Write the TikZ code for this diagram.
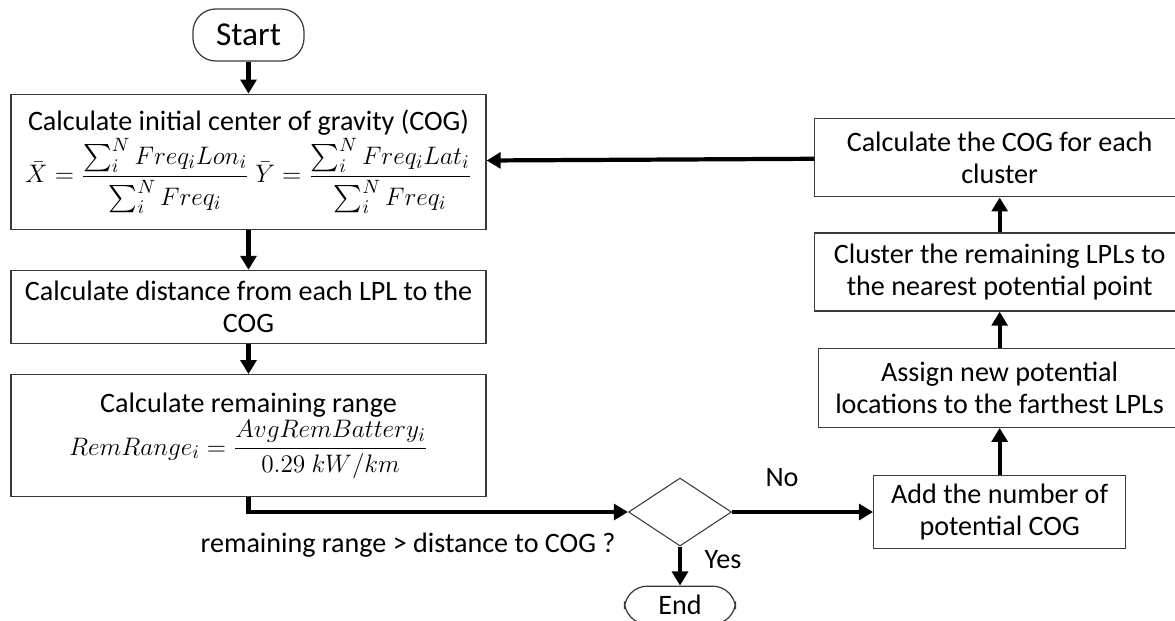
\documentclass[tikz,border=0pt]{standalone}
\usepackage{amsmath,amssymb}
\usepackage{fontspec}
\setmainfont{Carlito}
\usepackage{tikz}
\usetikzlibrary{
    arrows.meta,
    positioning,
    shapes.geometric
}
\definecolor{boxline}{HTML}{3A3A3A}
\tikzstyle{arrow}=[line width=2.4pt,-{Triangle[length=8pt,width=9pt]},draw=black]
\newcommand{\eqsize}{\fontsize{15.5}{18}\selectfont}

\begin{document}
\begin{tikzpicture}[
    every node/.style={font=\fontsize{16}{18.5}\selectfont},
    proc/.style={
        rectangle,
        draw=boxline,
        line width=0.7pt,
        fill=white,
        align=center,
        inner sep=2pt
    },
    terminal/.style={
        rectangle,
        rounded corners=13pt,
        draw=boxline,
        line width=0.7pt,
        minimum width=2.22cm,
        minimum height=1.04cm
    },
    decision/.style={
        diamond,
        draw=boxline,
        line width=0.6pt,
        minimum width=2.06cm,
        minimum height=1.36cm,
        inner sep=0pt
    }
]
\useasboundingbox[fill=white] (0,0) rectangle (23.5,-12.4);
% left column
\node[terminal,font=\fontsize{19}{22}\selectfont] (start) at (4.97,-0.70) {Start};
\node[proc,minimum width=9.5cm,minimum height=2.7cm,below=0.64cm of start] (initcog)
    {Calculate initial center of gravity (COG)\\[1pt]
    {\eqsize$\bar{X}=\dfrac{\sum_i^N Freq_iLon_i}{\sum_i^N Freq_i}\ \bar{Y}=\dfrac{\sum_i^N Freq_iLat_i}{\sum_i^N Freq_i}$}};
\node[proc,minimum width=9.5cm,minimum height=1.46cm,below=0.8cm of initcog] (dist)
    {Calculate distance from each LPL to the\\COG};
\node[proc,minimum width=9.5cm,minimum height=2.44cm,below=0.6cm of dist] (range)
    {Calculate remaining range\\[1pt]
    {\eqsize$RemRange_i=\dfrac{AvgRemBattery_i}{0.29\ kW/km}$}};
% decision and end
\node[decision] (check) at (13.6,-10.24) {};
\node[terminal,minimum height=0.76cm,below=0.78cm of check] (finish) {End};
% right column
\node[proc,minimum width=5.04cm,minimum height=1.46cm,right=2.82cm of check] (addcog)
    {Add the number of\\potential COG};
\node[proc,minimum width=7.24cm,minimum height=1.58cm,above=0.94cm of addcog] (assign)
    {Assign new potential\\locations to the farthest LPLs};
\node[proc,minimum width=7.4cm,minimum height=1.56cm,above=0.72cm of assign] (cluster)
    {Cluster the remaining LPLs to\\the nearest potential point};
\node[proc,minimum width=7.4cm,minimum height=1.56cm,above=0.7cm of cluster] (newcog)
    {Calculate the COG for each\\cluster};
% labels
\node (question) at (8.16,-10.9) {remaining range > distance to COG ?};
\node (nolabel) at (15.64,-9.56) {No};
\node (yeslabel) at (14.46,-11.2) {Yes};
% connectors
\draw[arrow] (start) -- (initcog);
\draw[arrow] (initcog) -- (dist);
\draw[arrow] (dist) -- (range);
\draw[arrow] (range.south) |- (check.west);
\draw[arrow] (check) -- (finish);
\draw[arrow] (check) -- (addcog);
\draw[arrow] (addcog) -- (assign);
\draw[arrow] (assign) -- (cluster);
\draw[arrow] (cluster) -- (newcog);
\draw[arrow] (newcog) -- (initcog);
\end{tikzpicture}
\end{document}
